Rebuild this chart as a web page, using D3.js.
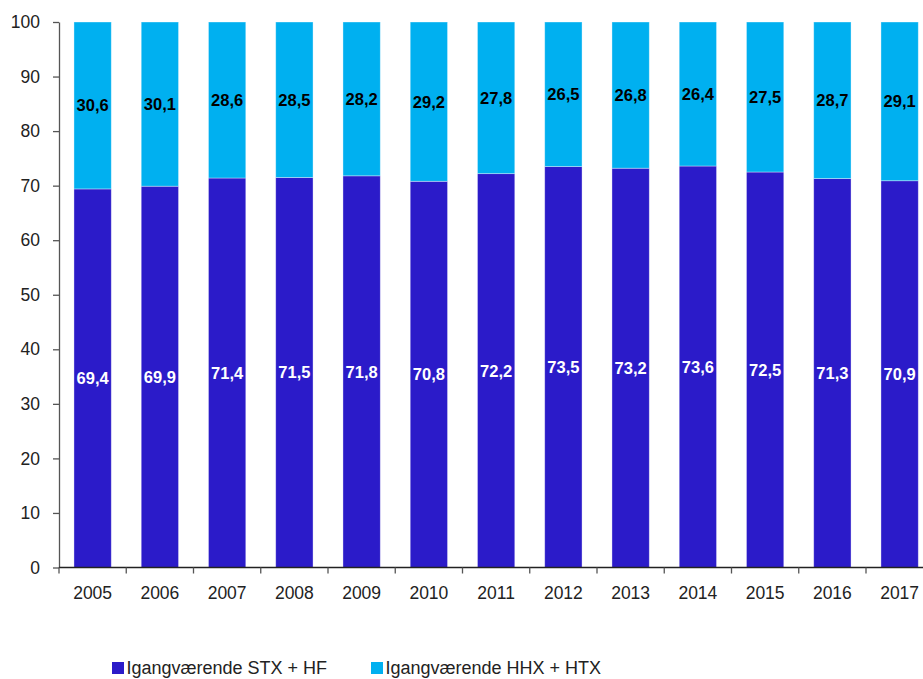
<!DOCTYPE html>
<html>
<head>
<meta charset="utf-8">
<script src="https://cdn.jsdelivr.net/npm/d3@7"></script>
<style>
html,body{margin:0;padding:0;background:#fff;overflow:hidden;}
svg{display:block;font-family:"Liberation Sans",Arial,Helvetica,sans-serif;}
</style>
</head>
<body>
<svg id="chart" width="923" height="679"></svg>
<script>
const years = ["2005","2006","2007","2008","2009","2010","2011","2012","2013","2014","2015","2016","2017"];
const stxHf = [69.4,69.9,71.4,71.5,71.8,70.8,72.2,73.5,73.2,73.6,72.5,71.3,70.9];
const hhxHtx = [30.6,30.1,28.6,28.5,28.2,29.2,27.8,26.5,26.8,26.4,27.5,28.7,29.1];
const seriesNames = ["Igangværende STX + HF","Igangværende HHX + HTX"];
const yTicks = [0,10,20,30,40,50,60,70,80,90,100];

const colors = ["#2b1bc9","#00b0f0"];
const svg = d3.select("#chart");
const x0 = 59, step = 67.25;
const x = d3.scaleBand().domain(years).range([x0, x0 + step*years.length]).paddingInner(0.445).paddingOuter(0.2225);
const y = d3.scaleLinear().domain([0,100]).range([567.5,22]);
const fmt = v => d3.format(".1f")(v).replace(".", ",");

const rows = years.map((yr,i)=>({year:yr, s0:stxHf[i], s1:hhxHtx[i]}));
const stack = d3.stack().keys(["s0","s1"])(rows);

const g = svg.append("g");
stack.forEach((layer,li)=>{
  g.selectAll(null).data(layer).enter().append("rect")
    .attr("x", d=>x(d.data.year))
    .attr("width", x.bandwidth())
    .attr("y", d=>y(d[1]))
    .attr("height", d=>y(d[0])-y(d[1]))
    .attr("fill", colors[li])
    .attr("stroke","#ffffff").attr("stroke-opacity",0.45).attr("stroke-width",0.8);
});
stack.forEach((layer,li)=>{
  g.selectAll(null).data(layer).enter().append("text")
    .attr("x", d=>x(d.data.year)+x.bandwidth()/2)
    .attr("y", d=>y((d[0]+d[1])/2))
    .attr("dy","0.36em")
    .attr("text-anchor","middle")
    .attr("font-size","16.5px").attr("font-weight","bold")
    .attr("fill", li===0 ? "#ffffff" : "#000000")
    .text(d=>fmt(d[1]-d[0]));
});

// Y axis
const yAxis = d3.axisLeft(y).tickValues(yTicks).tickSize(6).tickPadding(13).tickSizeOuter(0);
const ya = svg.append("g").attr("transform",`translate(${x0},0)`).call(yAxis);
ya.select(".domain").attr("stroke","#555").attr("stroke-width",1.3);
ya.selectAll(".tick line").attr("stroke","#555").attr("stroke-width",1.3);
ya.selectAll("text").attr("font-size","17.5px").attr("fill","#222").attr("font-family","Liberation Sans, Arial, sans-serif");

// X axis with ticks at band boundaries
const xa = svg.append("g").attr("transform",`translate(0,${y(0)})`);
xa.append("line").attr("x1",x0).attr("x2",923).attr("stroke","#222").attr("stroke-width",1.3);
const bounds = years.map((yr)=>x(yr) - x.step()*x.paddingInner()/2);
xa.selectAll(".bt").data(bounds).enter().append("line")
  .attr("x1",d=>d).attr("x2",d=>d).attr("y1",0).attr("y2",6)
  .attr("stroke","#555").attr("stroke-width",1.3);
xa.selectAll(".xl").data(years).enter().append("text")
  .attr("x",d=>x(d)+x.bandwidth()/2)
  .attr("y",31.5)
  .attr("text-anchor","middle")
  .attr("font-size","17.5px").attr("fill","#222")
  .text(d=>d);

// Legend
const legendX = [112, 371];
seriesNames.forEach((n,i)=>{
  svg.append("rect").attr("x",legendX[i]).attr("y",662).attr("width",12).attr("height",12).attr("fill",colors[i]);
  svg.append("text").attr("x",legendX[i]+14.5).attr("y",674).attr("font-size","18px").attr("fill","#222").text(n);
});
</script>
</body>
</html>
